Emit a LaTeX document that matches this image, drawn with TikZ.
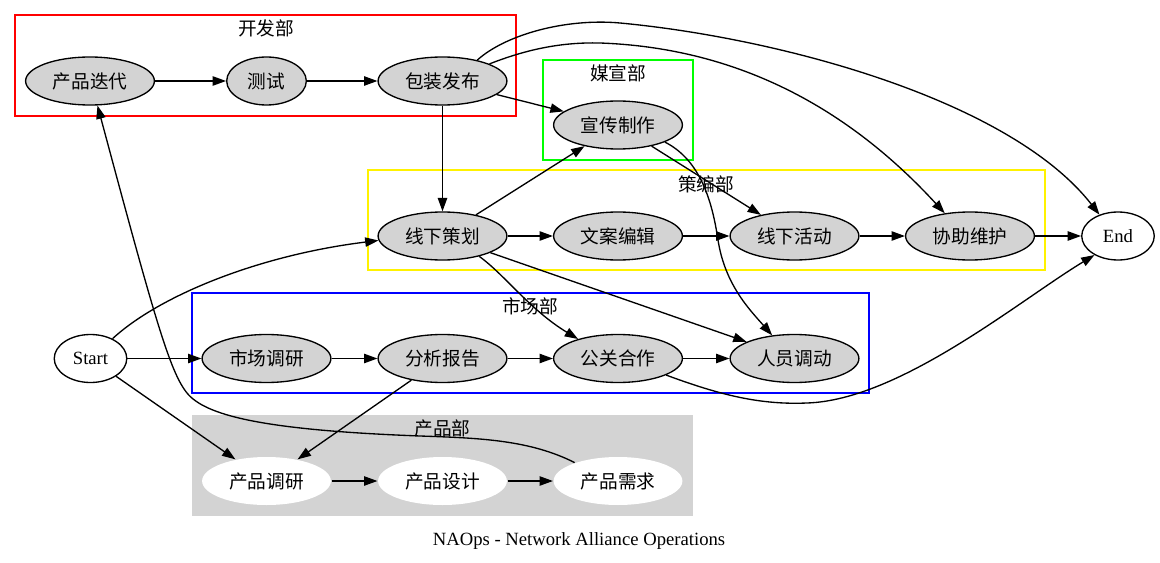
\documentclass[tikz,border=0pt]{standalone}
\usepackage{fontspec}
\setmainfont{Liberation Serif}
\newfontfamily\cjk{Noto Sans CJK SC}
\usetikzlibrary{shapes.geometric,arrows.meta}
\definecolor{lgray}{HTML}{D3D3D3}
\begin{document}
\begin{tikzpicture}[x=0.75pt,y=-0.75pt,
  proc/.style={ellipse, draw, line width=1pt, fill=lgray, minimum width=96.6pt, minimum height=36pt, inner sep=0pt, font=\cjk\fontsize{14}{16}\selectfont},
  shortproc/.style={proc, minimum width=59.7pt},
  term/.style={ellipse, draw, line width=1pt, fill=white, minimum width=54.4pt, minimum height=36pt, inner sep=0pt, font=\fontsize{14}{16}\selectfont},
  prod/.style={proc, draw=none, fill=white},
  clus/.style={line width=1pt},
  clab/.style={font=\cjk\fontsize{14}{16}\selectfont, inner sep=0pt},
  edge/.style={line width=1pt, -{Triangle[length=10pt,width=7pt]}}]
\useasboundingbox (0,0) rectangle (1160,563);
% clusters
\fill[lgray] (192,415) rectangle (693,516);
\draw[red, clus] (15,15) rectangle (516,116);
\draw[green, clus] (543,60) rectangle (693,160);
\draw[yellow, clus] (368,170) rectangle (1045,270);
\draw[blue, clus] (192,293) rectangle (869,393);
\node[clab] (lkf) at (266,28) {开发部};
\node[clab] (lmx) at (618,73) {媒宣部};
\node[clab] (lcb) at (706,184) {策编部};
\node[clab] (lsc) at (530,306) {市场部};
\node[clab] (lcp) at (442.5,428) {产品部};
% nodes
\node[proc] (cpdd) at (90,81) {产品迭代};
\node[shortproc] (cs) at (266.5,81) {测试};
\node[proc] (bzfb) at (442.5,81) {包装发布};
\node[proc] (xczz) at (618,125) {宣传制作};
\node[proc] (xxch) at (442.5,236) {线下策划};
\node[proc] (wabj) at (618,236) {文案编辑};
\node[proc] (xxhd) at (794.5,236) {线下活动};
\node[proc] (xzwh) at (970,236) {协助维护};
\node[term] (endn) at (1118,236) {End};
\node[term] (startn) at (90.5,358.5) {Start};
\node[proc] (scdy) at (266.5,358.5) {市场调研};
\node[proc] (fxbg) at (442.5,358.5) {分析报告};
\node[proc] (gghz) at (618,358.5) {公关合作};
\node[proc] (rydd) at (794.5,358.5) {人员调动};
\node[prod] (cpdy) at (266.5,481) {产品调研};
\node[prod] (cpsj) at (442.5,481) {产品设计};
\node[prod] (cpxq) at (618,481) {产品需求};
\node[font=\fontsize{14}{16}\selectfont, inner sep=0pt] (cap) at (579,541) {NAOps - Network Alliance Operations};
% edges
\draw[edge] (cpdd) -- (cs);
\draw[edge] (cs) -- (bzfb);
\draw[edge] (bzfb) -- (xczz);
\draw[edge] (bzfb) -- (xxch);
\draw[edge] (bzfb.31) .. controls (505,35) and (565,18) .. (620,23) .. controls (780,38) and (1010,100) .. (endn.131);
\draw[edge] (bzfb.20) .. controls (525,50) and (560,42) .. (600,43) .. controls (740,48) and (850,110) .. (xzwh.138);
\draw[edge] (xczz) -- (xxhd);
\draw[edge] (xczz.340) .. controls (700,160) and (712,200) .. (718,240) .. controls (725,285) and (750,310) .. (rydd.134);
\draw[edge] (xxch) -- (xczz);
\draw[edge] (xxch) -- (wabj);
\draw[edge] (wabj) -- (xxhd);
\draw[edge] (xxhd) -- (xzwh);
\draw[edge] (xzwh) -- (endn);
\draw[edge] (xxch.331) .. controls (505,275) and (530,310) .. (gghz.154);
\draw[edge] (xxch) -- (rydd);
\draw[edge] (startn.42) .. controls (160,295) and (260,255) .. (xxch.184.5);
\draw[edge] (startn) -- (scdy);
\draw[edge] (startn) -- (cpdy);
\draw[edge] (scdy) -- (fxbg);
\draw[edge] (fxbg) -- (gghz);
\draw[edge] (gghz) -- (rydd);
\draw[edge] (gghz.341) .. controls (720,395) and (760,405) .. (807,403) .. controls (900,400) and (1020,300) .. (endn.219);
\draw[edge] (fxbg) -- (cpdy);
\draw[edge] (cpdy) -- (cpsj);
\draw[edge] (cpsj) -- (cpxq);
\draw[edge] (cpxq.157) .. controls (530,440) and (480,438) .. (420,436) .. controls (260,430) and (205,415) .. (187,393) .. controls (170,372) and (155,320) .. (cpdd.287);
\end{tikzpicture}
\end{document}
